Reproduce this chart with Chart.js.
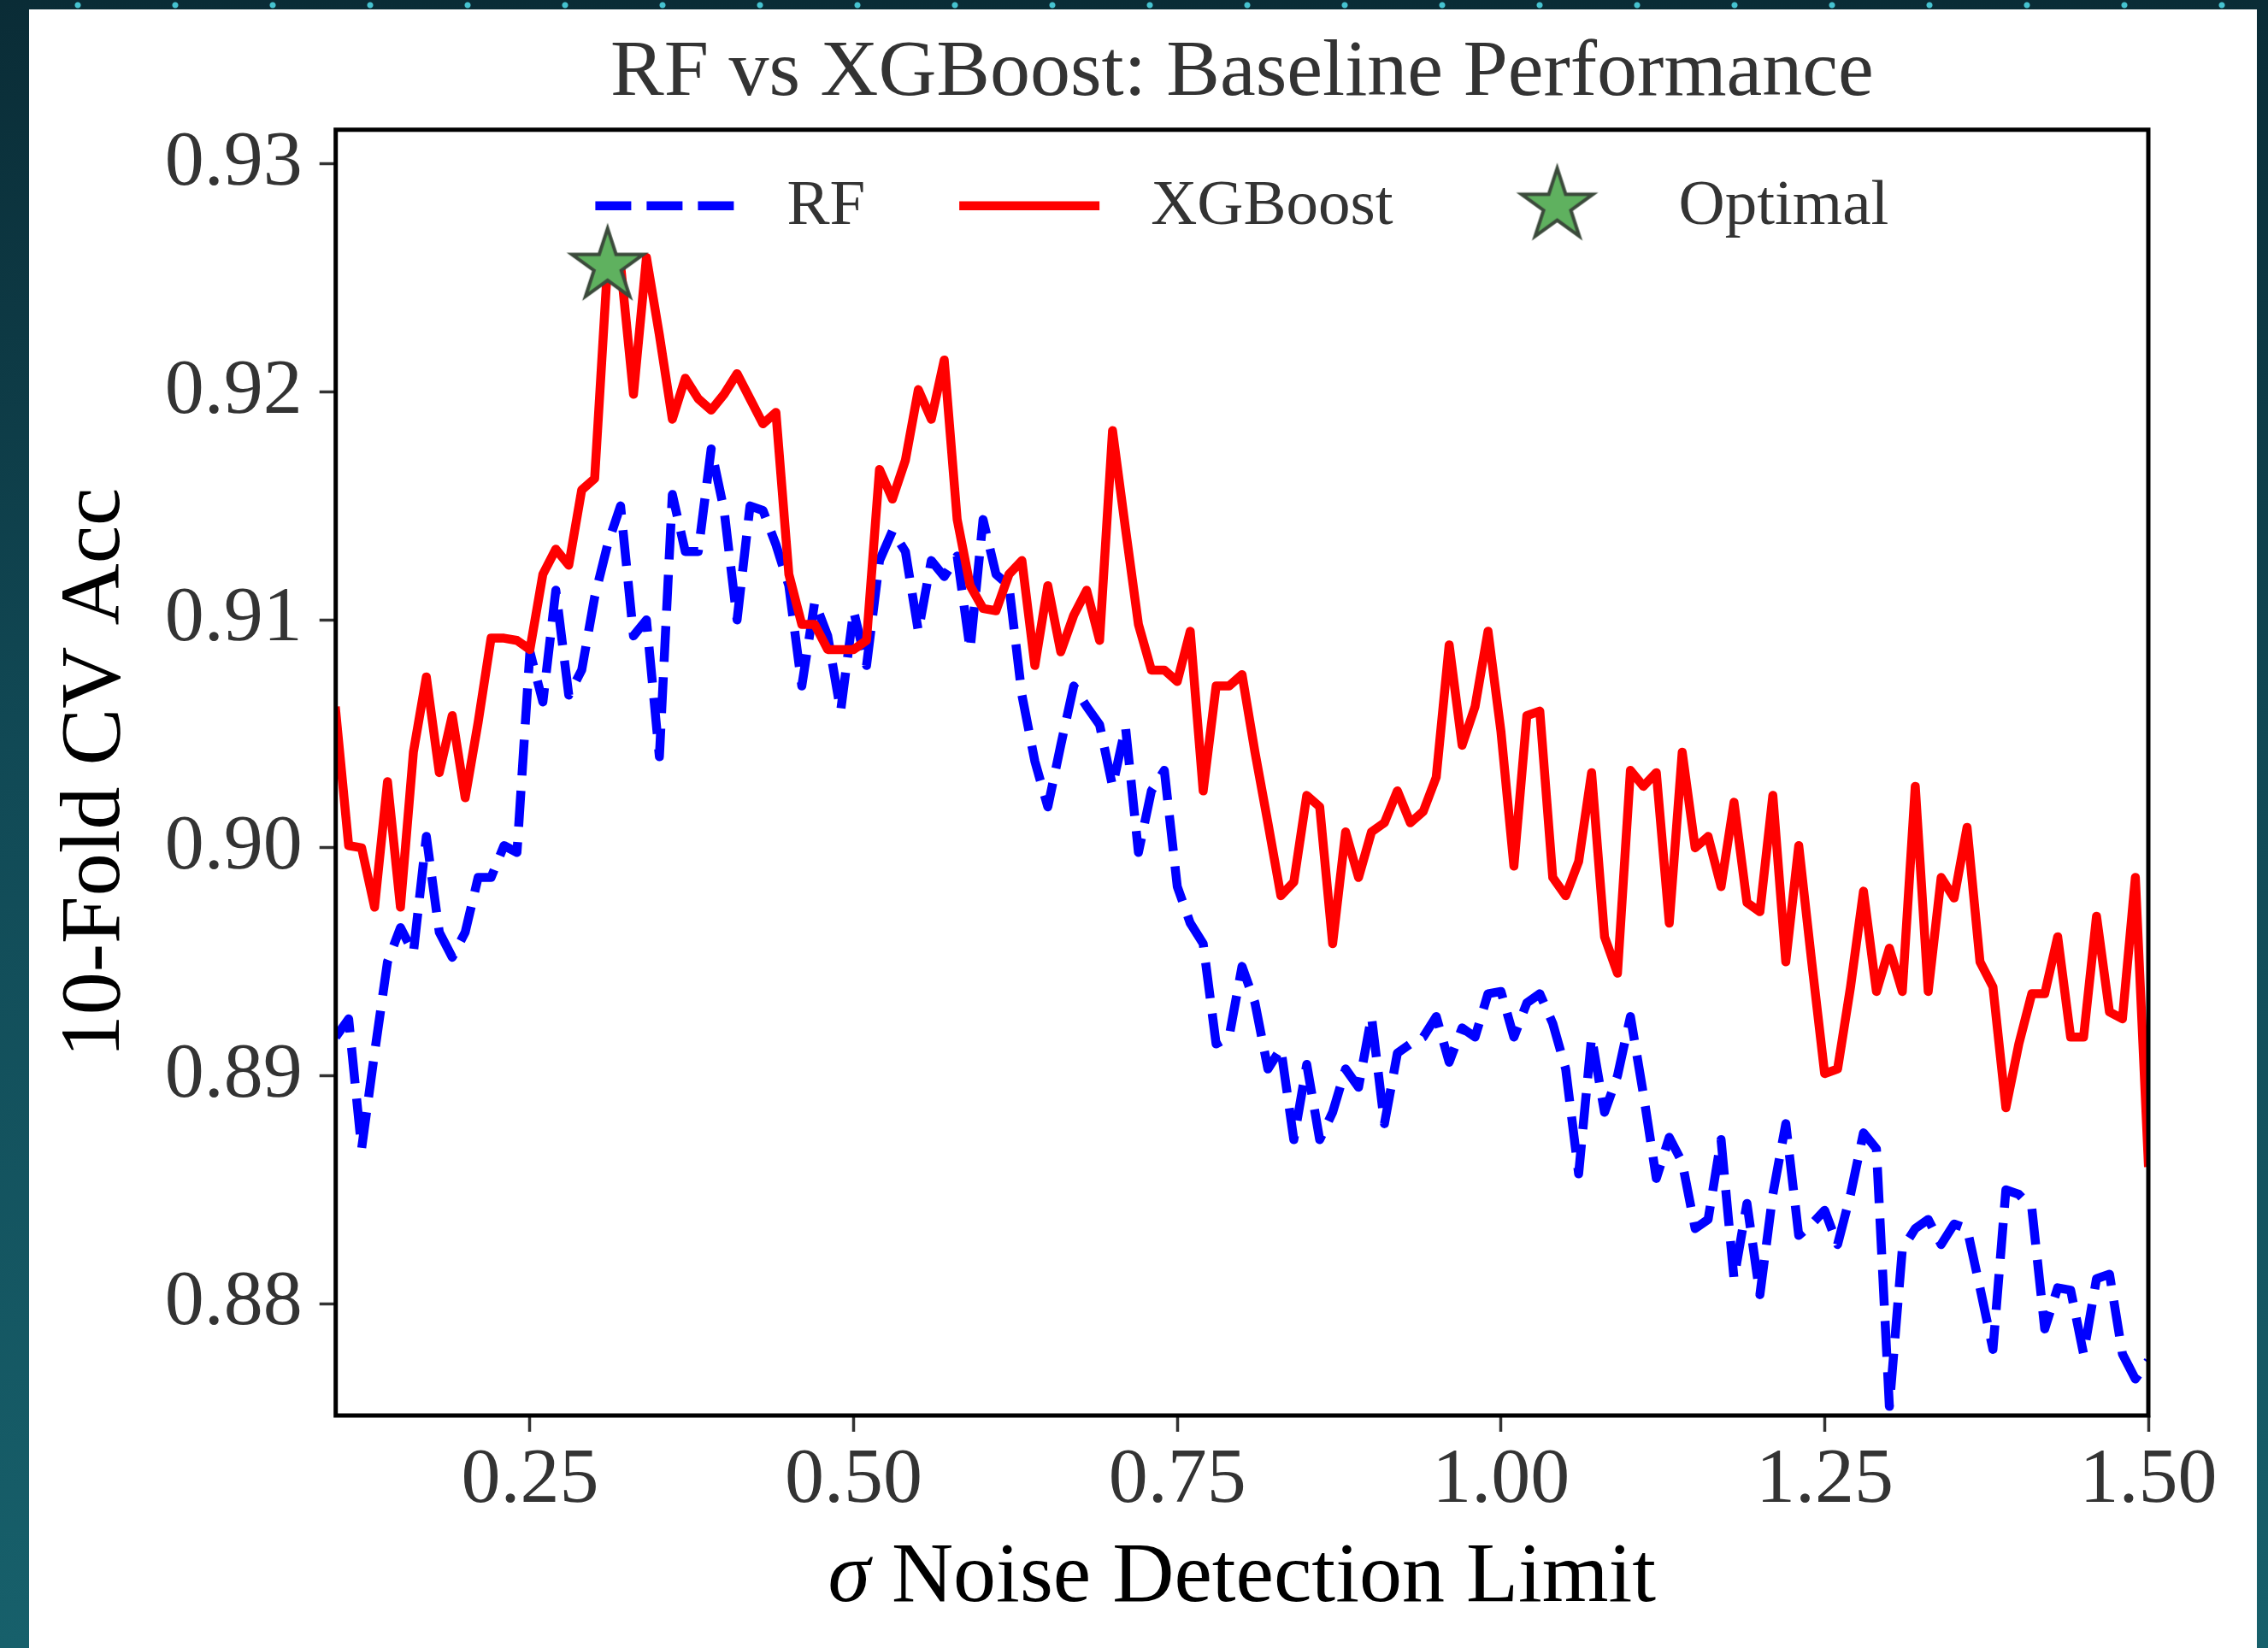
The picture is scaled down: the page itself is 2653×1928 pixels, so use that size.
<!DOCTYPE html>
<html>
<head>
<meta charset="utf-8">
<title>RF vs XGBoost: Baseline Performance</title>
<script src="https://cdn.jsdelivr.net/npm/chart.js@4.4.1/dist/chart.umd.min.js"></script>
<style>
  html, body {
    margin: 0;
    padding: 0;
    width: 2653px;
    height: 1928px;
    overflow: hidden;
    background-color: #0f3f4a;
    background-image:
      radial-gradient(circle, rgba(80, 220, 235, 0.85) 0, rgba(80, 220, 235, 0.85) 3px, transparent 4px),
      linear-gradient(to bottom, #0a2c36 0%, #114955 45%, #17606b 100%);
    background-size: 114px 114px, 100% 100%;
    background-position: 34px -51px, 0 0;
  }
  .panel {
    position: absolute;
    left: 34px;
    top: 11px;
    width: 2606px;
    height: 1917px;
    background: #ffffff;
  }
  canvas { display: block; }
</style>
</head>
<body>
<div class="panel">
  <canvas id="cv-chart" width="2606" height="1917"></canvas>
</div>
<script>
let sigma_values = [
  0.10, 0.11, 0.12, 0.13, 0.14, 0.15, 0.16, 0.17, 0.18, 0.19,
  0.20, 0.21, 0.22, 0.23, 0.24, 0.25, 0.26, 0.27, 0.28, 0.29,
  0.30, 0.31, 0.32, 0.33, 0.34, 0.35, 0.36, 0.37, 0.38, 0.39,
  0.40, 0.41, 0.42, 0.43, 0.44, 0.45, 0.46, 0.47, 0.48, 0.49,
  0.50, 0.51, 0.52, 0.53, 0.54, 0.55, 0.56, 0.57, 0.58, 0.59,
  0.60, 0.61, 0.62, 0.63, 0.64, 0.65, 0.66, 0.67, 0.68, 0.69,
  0.70, 0.71, 0.72, 0.73, 0.74, 0.75, 0.76, 0.77, 0.78, 0.79,
  0.80, 0.81, 0.82, 0.83, 0.84, 0.85, 0.86, 0.87, 0.88, 0.89,
  0.90, 0.91, 0.92, 0.93, 0.94, 0.95, 0.96, 0.97, 0.98, 0.99,
  1.00, 1.01, 1.02, 1.03, 1.04, 1.05, 1.06, 1.07, 1.08, 1.09,
  1.10, 1.11, 1.12, 1.13, 1.14, 1.15, 1.16, 1.17, 1.18, 1.19,
  1.20, 1.21, 1.22, 1.23, 1.24, 1.25, 1.26, 1.27, 1.28, 1.29,
  1.30, 1.31, 1.32, 1.33, 1.34, 1.35, 1.36, 1.37, 1.38, 1.39,
  1.40, 1.41, 1.42, 1.43, 1.44, 1.45, 1.46, 1.47, 1.48, 1.49,
  1.50
];

let rf_accuracy = [
  0.8917, 0.8925, 0.8868, 0.8910, 0.8950, 0.8965, 0.8954, 0.9005, 0.8963, 0.8952,
  0.8963, 0.8987, 0.8987, 0.9001, 0.8998, 0.9086, 0.9064, 0.9113, 0.9067, 0.9078,
  0.9110, 0.9133, 0.9150, 0.9093, 0.9100, 0.9040, 0.9155, 0.9130, 0.9130, 0.9175,
  0.9148, 0.9100, 0.9150, 0.9148, 0.9133, 0.9115, 0.9071, 0.9108, 0.9093, 0.9060,
  0.9104, 0.9080, 0.9126, 0.9139, 0.9130, 0.9095, 0.9126, 0.9119, 0.9128, 0.9087,
  0.9144, 0.9120, 0.9115, 0.9067, 0.9038, 0.9018, 0.9045, 0.9071, 0.9062, 0.9054,
  0.9027, 0.9053, 0.8998, 0.9025, 0.9034, 0.8983, 0.8967, 0.8958, 0.8914, 0.8917,
  0.8948, 0.8932, 0.8903, 0.8912, 0.8872, 0.8905, 0.8872, 0.8884, 0.8903, 0.8895,
  0.8926, 0.8879, 0.8910, 0.8914, 0.8917, 0.8926, 0.8906, 0.8921, 0.8917, 0.8936,
  0.8937, 0.8917, 0.8932, 0.8936, 0.8923, 0.8903, 0.8857, 0.8917, 0.8884, 0.8900,
  0.8926, 0.8892, 0.8855, 0.8873, 0.8862, 0.8833, 0.8837, 0.8872, 0.8811, 0.8844,
  0.8804, 0.8848, 0.8879, 0.8830, 0.8835, 0.8841, 0.8826, 0.8848, 0.8875, 0.8868,
  0.8755, 0.8824, 0.8833, 0.8837, 0.8826, 0.8835, 0.8833, 0.8807, 0.8780, 0.8850,
  0.8848, 0.8842, 0.8789, 0.8807, 0.8806, 0.8778, 0.8811, 0.8813, 0.8778, 0.8767,
  0.8775
];

let xgb_accuracy = [
  0.9060, 0.9001, 0.9000, 0.8974, 0.9029, 0.8974, 0.9042, 0.9075, 0.9033, 0.9058,
  0.9022, 0.9055, 0.9092, 0.9092, 0.9091, 0.9087, 0.9120, 0.9131, 0.9124, 0.9157,
  0.9162, 0.9256, 0.9256, 0.9199, 0.9259, 0.9225, 0.9188, 0.9206, 0.9197, 0.9192,
  0.9199, 0.9208, 0.9197, 0.9186, 0.9191, 0.9120, 0.9098, 0.9098, 0.9087, 0.9087,
  0.9087, 0.9091, 0.9166, 0.9153, 0.9170, 0.9201, 0.9188, 0.9214, 0.9144, 0.9115,
  0.9105, 0.9104, 0.9120, 0.9126, 0.9080, 0.9115, 0.9086, 0.9102, 0.9113, 0.9091,
  0.9183, 0.9140, 0.9098, 0.9078, 0.9078, 0.9073, 0.9095, 0.9025, 0.9071, 0.9071,
  0.9076, 0.9042, 0.9011, 0.8979, 0.8985, 0.9023, 0.9018, 0.8958, 0.9007, 0.8987,
  0.9007, 0.9011, 0.9025, 0.9011, 0.9016, 0.9031, 0.9089, 0.9045, 0.9062, 0.9095,
  0.9051, 0.8992, 0.9058, 0.9060, 0.8987, 0.8979, 0.8994, 0.9033, 0.8961, 0.8945,
  0.9034, 0.9027, 0.9033, 0.8967, 0.9042, 0.9000, 0.9005, 0.8983, 0.9020, 0.8976,
  0.8972, 0.9023, 0.8950, 0.9001, 0.8950, 0.8901, 0.8903, 0.8939, 0.8981, 0.8937,
  0.8956, 0.8937, 0.9027, 0.8937, 0.8987, 0.8978, 0.9009, 0.8950, 0.8939, 0.8886,
  0.8914, 0.8936, 0.8936, 0.8961, 0.8917, 0.8917, 0.8970, 0.8928, 0.8925, 0.8987,
  0.8862
];

let optimal_sigma = [0.31];
let optimal_accuracy = [0.9256];

let x_ticks = [0.25, 0.50, 0.75, 1.00, 1.25, 1.50];
let y_ticks = [0.88, 0.89, 0.90, 0.91, 0.92, 0.93];

let SERIF = "'Liberation Serif', 'Times New Roman', serif";
let TEXT_GREY = '#333333';

// green star used both on the plot and in the legend
let make_star = function() {
    let star = document.createElement('canvas');
    star.width = 100;
    star.height = 100;
    let c = star.getContext('2d');
    let outer = 44;
    let inner = outer * 0.382;
    c.beginPath();
    for (let i = 0; i < 10; i++) {
        let r = i % 2 === 0 ? outer : inner;
        let a = -Math.PI / 2 + i * Math.PI / 5;
        let px = 50 + r * Math.cos(a);
        let py = 52 + r * Math.sin(a);
        if (i === 0) c.moveTo(px, py); else c.lineTo(px, py);
    }
    c.closePath();
    c.fillStyle = '#5fb15f';
    c.fill();
    c.lineJoin = 'miter';
    c.lineWidth = 4;
    c.strokeStyle = '#3b4a3b';
    c.stroke();
    return star;
};

let to_points = function(xs, ys) {
    return xs.map(function(x, i) { return {x: x, y: ys[i]}; });
};

// full box around the plot area
let frame_plugin = {
    id: 'frame',
    afterDatasetsDraw: function(chart) {
        let area = chart.chartArea;
        let ctx = chart.ctx;
        ctx.save();
        ctx.strokeStyle = '#000000';
        ctx.lineWidth = 5;
        ctx.strokeRect(area.left, area.top, area.right - area.left, area.bottom - area.top);
        ctx.restore();
    }
};

// x axis title with an italic sigma
let x_title_plugin = {
    id: 'xTitle',
    afterDraw: function(chart) {
        let ctx = chart.ctx;
        let area = chart.chartArea;
        let italic = 'italic 100px ' + SERIF;
        let normal = '100px ' + SERIF;
        let rest = ' Noise Detection Limit';
        ctx.save();
        ctx.fillStyle = '#000000';
        ctx.textBaseline = 'alphabetic';
        ctx.textAlign = 'left';
        ctx.font = italic;
        let w1 = ctx.measureText('\u03c3').width;
        ctx.font = normal;
        let w2 = ctx.measureText(rest).width;
        let left = (area.left + area.right) / 2 - (w1 + w2) / 2;
        let base = chart.scales.x.bottom - 55;
        ctx.font = italic;
        ctx.fillText('\u03c3', left, base);
        ctx.font = normal;
        ctx.fillText(rest, left + w1, base);
        ctx.restore();
    }
};

// legend row drawn inside the top of the plot area
let inner_legend_plugin = {
    id: 'innerLegend',
    afterDraw: function(chart) {
        let ctx = chart.ctx;
        let area = chart.chartArea;
        let handle_len = 164;
        let text_pad = 60;
        let col_gap = 110;
        let font_size = 75;
        ctx.save();
        ctx.font = font_size + 'px ' + SERIF;
        let items = chart.data.datasets.map(function(ds) {
            return {ds: ds, w: ctx.measureText(ds.label).width};
        });
        let total = 0;
        items.forEach(function(it, i) {
            total += handle_len + text_pad + it.w + (i > 0 ? col_gap : 0);
        });
        let x = (area.left + area.right) / 2 - total / 2;
        let cy = area.top + 89;
        items.forEach(function(it) {
            let ds = it.ds;
            if (ds.showLine === false) {
                let img = ds.pointStyle;
                ctx.drawImage(img, x + handle_len / 2 - img.width / 2, cy - img.height / 2 - 2);
            } else {
                ctx.beginPath();
                ctx.setLineDash(ds.borderDash || []);
                ctx.lineCap = 'butt';
                ctx.lineWidth = ds.borderWidth;
                ctx.strokeStyle = ds.borderColor;
                ctx.moveTo(x, cy);
                ctx.lineTo(x + handle_len, cy);
                ctx.stroke();
                ctx.setLineDash([]);
            }
            ctx.fillStyle = TEXT_GREY;
            ctx.textBaseline = 'middle';
            ctx.textAlign = 'left';
            ctx.fillText(ds.label, x + handle_len + text_pad, cy + 1);
            x += handle_len + text_pad + it.w + col_gap;
        });
        ctx.restore();
    }
};

window.onload = function() {
    let chart_element = document.getElementById('cv-chart');
    let star_image = make_star();

    let chart = new Chart(chart_element, {
        type: 'line',
        data: {
            datasets: [
                {
                    label: 'RF',
                    data: to_points(sigma_values, rf_accuracy),
                    borderColor: '#0000ff',
                    borderWidth: 10.5,
                    borderDash: [42, 18],
                    borderCapStyle: 'butt',
                    borderJoinStyle: 'round',
                    pointRadius: 0,
                    tension: 0,
                    fill: false,
                    clip: 0,
                    order: 2
                },
                {
                    label: 'XGBoost',
                    data: to_points(sigma_values, xgb_accuracy),
                    borderColor: '#ff0000',
                    borderWidth: 10.5,
                    borderCapStyle: 'square',
                    borderJoinStyle: 'round',
                    pointRadius: 0,
                    tension: 0,
                    fill: false,
                    clip: 0,
                    order: 1
                },
                {
                    label: 'Optimal',
                    data: to_points(optimal_sigma, optimal_accuracy),
                    showLine: false,
                    pointStyle: star_image,
                    pointRadius: 40,
                    borderColor: '#3b4a3b',
                    backgroundColor: '#5fb15f',
                    clip: false,
                    order: 0
                }
            ]
        },
        options: {
            responsive: false,
            maintainAspectRatio: false,
            devicePixelRatio: 1,
            animation: false,
            events: [],
            layout: {
                padding: {left: 0, right: 127, top: 0, bottom: 0}
            },
            plugins: {
                legend: {display: false},
                tooltip: {enabled: false},
                title: {
                    display: true,
                    fullSize: false,
                    text: 'RF vs XGBoost: Baseline Performance',
                    color: TEXT_GREY,
                    font: {family: SERIF, size: 94, weight: 'normal'},
                    padding: {top: 19, bottom: 9}
                }
            },
            scales: {
                x: {
                    type: 'linear',
                    min: 0.1,
                    max: 1.5,
                    afterBuildTicks: function(scale) {
                        scale.ticks = x_ticks.map(function(v) { return {value: v}; });
                    },
                    afterFit: function(scale) {
                        scale.height = 272;
                    },
                    ticks: {
                        color: TEXT_GREY,
                        font: {family: SERIF, size: 92},
                        padding: 3,
                        maxRotation: 0,
                        autoSkip: false,
                        callback: function(v) { return Number(v).toFixed(2); }
                    },
                    grid: {
                        display: true,
                        drawOnChartArea: false,
                        drawTicks: true,
                        tickLength: 19,
                        tickWidth: 3.5,
                        tickColor: TEXT_GREY
                    },
                    border: {display: false}
                },
                y: {
                    type: 'linear',
                    min: 0.8751,
                    max: 0.9315,
                    afterBuildTicks: function(scale) {
                        scale.ticks = y_ticks.map(function(v) { return {value: v}; });
                    },
                    afterFit: function(scale) {
                        scale.width = 358.7;
                    },
                    ticks: {
                        color: TEXT_GREY,
                        font: {family: SERIF, size: 92},
                        padding: 20,
                        autoSkip: false,
                        callback: function(v) { return Number(v).toFixed(2); }
                    },
                    grid: {
                        display: true,
                        drawOnChartArea: false,
                        drawTicks: true,
                        tickLength: 19,
                        tickWidth: 3.5,
                        tickColor: TEXT_GREY
                    },
                    border: {display: false},
                    title: {
                        display: true,
                        text: '10-Fold CV Acc',
                        color: '#000000',
                        font: {family: SERIF, size: 100},
                        padding: {top: 19, bottom: 0}
                    }
                }
            }
        },
        plugins: [frame_plugin, x_title_plugin, inner_legend_plugin]
    });
};
</script>
</body>
</html>
